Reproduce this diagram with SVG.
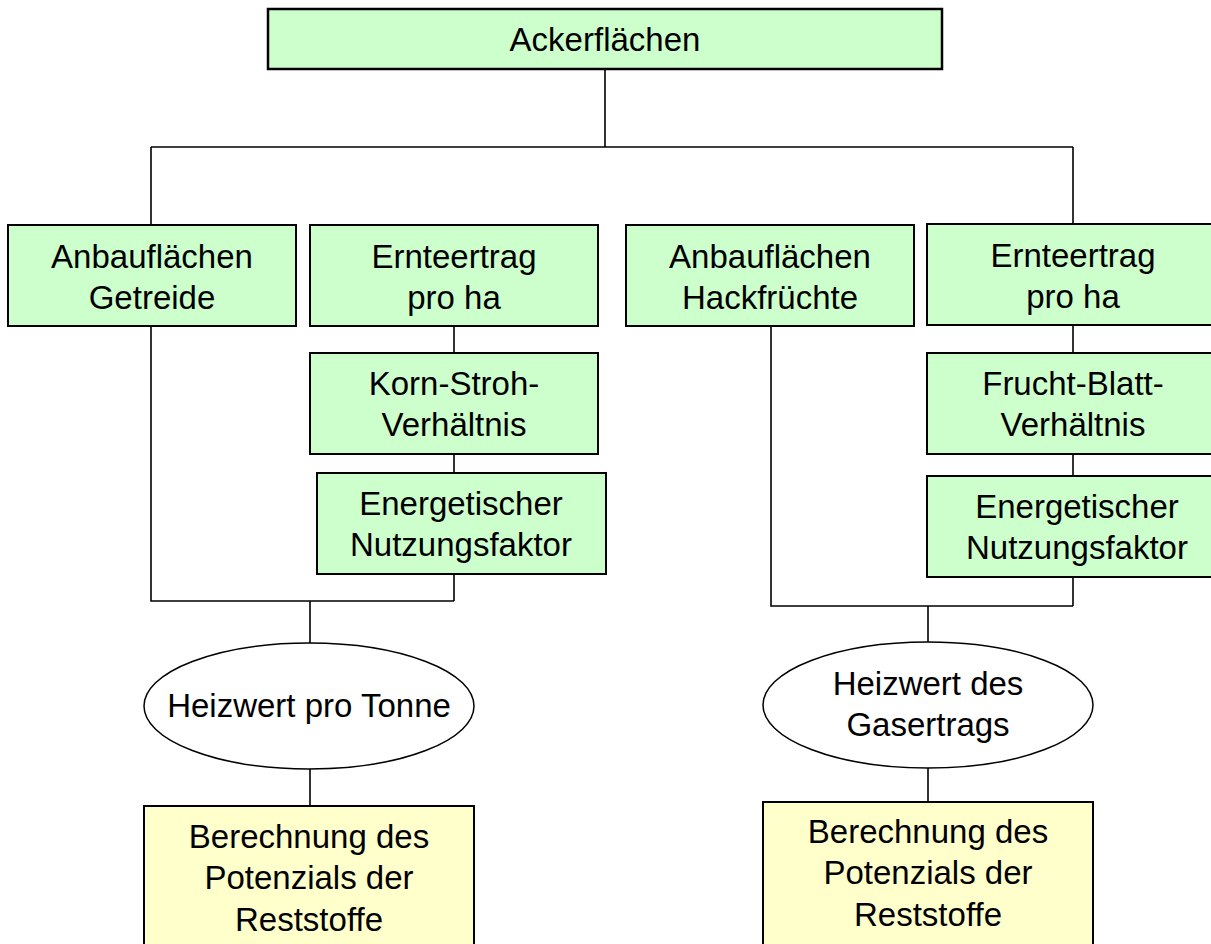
<svg xmlns="http://www.w3.org/2000/svg" width="1211" height="944" viewBox="0 0 1211 944">
<style>
.g{fill:#CCFFCC;stroke:#000;stroke-width:2}
.y{fill:#FFFFCC;stroke:#000;stroke-width:2}
.e{fill:#FFFFFF;stroke:#000;stroke-width:1.5}
.t{font-family:"Liberation Sans",Arial,sans-serif;font-size:33px;fill:#000;text-anchor:middle}
.c{fill:none;stroke:#000;stroke-width:1.6}
</style>
<rect width="1211" height="944" fill="#FFFFFF"/>
<g id="connectors">
<path class="c" d="M605,69 V147 M151,147 H1073 M151,147 V225 M1073,147 V224"/>
<path class="c" d="M454,326 V353 M454,454 V473 M454,574 V601 M151,327 V601 H454 M310,601 V643 M310,769 V806"/>
<path class="c" d="M1073,325 V353 M1073,454 V476 M1073,577 V606 M771,326 V606 H1073 M928,606 V642 M928,767 V802"/>
</g>
<g id="ackerflaechen">
<rect class="g" x="268" y="9" width="674" height="60" style="stroke-width:2.5"/>
<text class="t" x="605" y="51">Ackerflächen</text>
</g>
<g id="anbau-getreide">
<rect class="g" x="8" y="225" width="288" height="101"/>
<text class="t" x="152" y="268">Anbauflächen</text>
<text class="t" x="152" y="309">Getreide</text>
</g>
<g id="ernteertrag-1">
<rect class="g" x="310" y="225" width="288" height="101"/>
<text class="t" x="454" y="268">Ernteertrag</text>
<text class="t" x="454" y="309">pro ha</text>
</g>
<g id="anbau-hack">
<rect class="g" x="626" y="225" width="288" height="101"/>
<text class="t" x="770" y="268">Anbauflächen</text>
<text class="t" x="770" y="309">Hackfrüchte</text>
</g>
<g id="ernteertrag-2">
<rect class="g" x="927" y="224" width="300" height="101"/>
<text class="t" x="1073" y="267">Ernteertrag</text>
<text class="t" x="1073" y="308">pro ha</text>
</g>
<g id="korn-stroh">
<rect class="g" x="310" y="353" width="288" height="101"/>
<text class="t" x="454" y="395">Korn-Stroh-</text>
<text class="t" x="454" y="436">Verhältnis</text>
</g>
<g id="energie-1">
<rect class="g" x="317" y="473" width="289" height="101"/>
<text class="t" x="461" y="515">Energetischer</text>
<text class="t" x="461" y="556">Nutzungsfaktor</text>
</g>
<g id="frucht-blatt">
<rect class="g" x="927" y="353" width="300" height="101"/>
<text class="t" x="1073" y="395">Frucht-Blatt-</text>
<text class="t" x="1073" y="436">Verhältnis</text>
</g>
<g id="energie-2">
<rect class="g" x="927" y="476" width="300" height="101"/>
<text class="t" x="1077" y="518">Energetischer</text>
<text class="t" x="1077" y="559">Nutzungsfaktor</text>
</g>
<g id="heizwert-tonne">
<ellipse class="e" cx="309" cy="706" rx="165" ry="63"/>
<text class="t" x="309" y="717">Heizwert pro Tonne</text>
</g>
<g id="heizwert-gas">
<ellipse class="e" cx="928" cy="705" rx="165" ry="63"/>
<text class="t" x="928" y="695">Heizwert des</text>
<text class="t" x="928" y="736">Gasertrags</text>
</g>
<g id="berechnung-1">
<rect class="y" x="144" y="806" width="330" height="150"/>
<text class="t" x="309" y="848">Berechnung des</text>
<text class="t" x="309" y="889">Potenzials der</text>
<text class="t" x="309" y="931">Reststoffe</text>
</g>
<g id="berechnung-2">
<rect class="y" x="763" y="802" width="330" height="150"/>
<text class="t" x="928" y="843">Berechnung des</text>
<text class="t" x="928" y="884">Potenzials der</text>
<text class="t" x="928" y="926">Reststoffe</text>
</g>
</svg>
